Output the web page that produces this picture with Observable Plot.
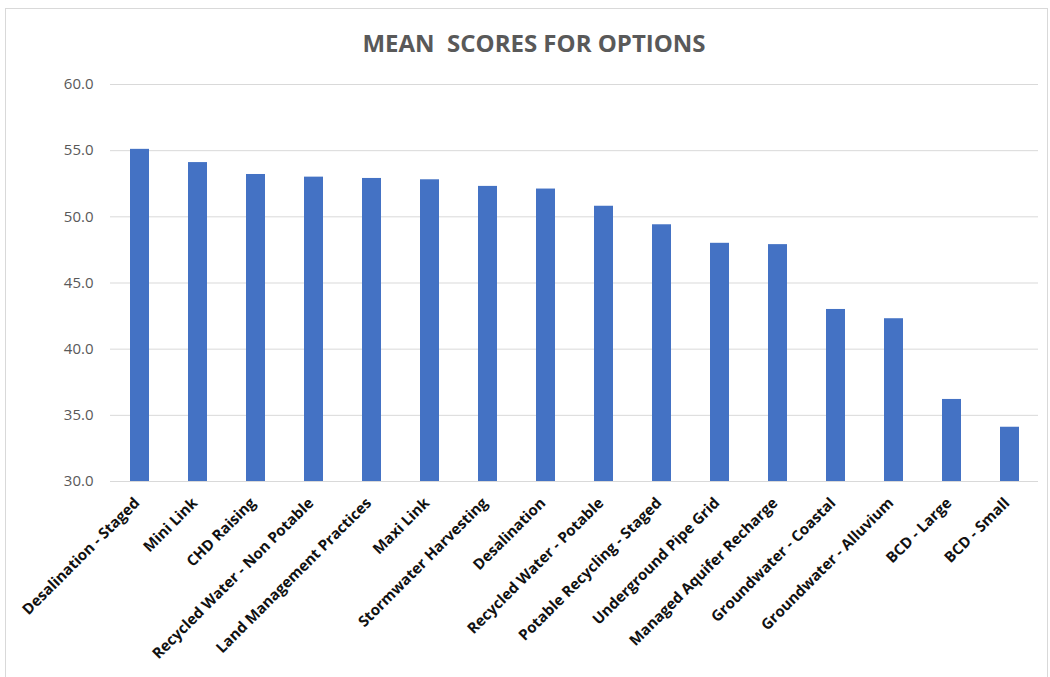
<!DOCTYPE html>
<html>
<head>
<meta charset="utf-8">
<script src="https://cdn.jsdelivr.net/npm/d3@7"></script>
<script src="https://cdn.jsdelivr.net/npm/@observablehq/plot@0.6"></script>
<style>
  html, body { margin: 0; padding: 0; background: #fff; }
  #wrap { position: relative; width: 1050px; height: 677px; overflow: hidden; background: #fff; }
  #frame { position: absolute; left: 5px; top: 8px; width: 1043px; height: 680px; border: 1px solid #d9d9d9; box-sizing: border-box; pointer-events: none; z-index: 2; }
  #title { position: absolute; left: 0; top: 31px; width: 1068px; text-align: center; white-space: pre; line-height: 24px;
           font-family: "Open Sans", sans-serif; font-weight: bold; font-size: 24px; color: #595959; z-index: 1; }
  #chart { position: absolute; left: 0; top: 70px; }
</style>
</head>
<body>
<div id="wrap">
  <div id="chart"></div>
  <div id="title">MEAN  SCORES FOR OPTIONS</div>
  <div id="frame"></div>
</div>
<script>
const options = [
  "Desalination - Staged",
  "Mini Link",
  "CHD Raising",
  "Recycled Water - Non Potable",
  "Land Management Practices",
  "Maxi Link",
  "Stormwater Harvesting",
  "Desalination",
  "Recycled Water - Potable",
  "Potable Recycling - Staged",
  "Underground Pipe Grid",
  "Managed Aquifer Recharge",
  "Groundwater - Coastal",
  "Groundwater - Alluvium",
  "BCD - Large",
  "BCD - Small"
];
const meanScores = [55.1, 54.1, 53.2, 53.0, 52.9, 52.8, 52.3, 52.1, 50.8, 49.4, 48.0, 47.9, 43.0, 42.3, 36.2, 34.1];
const yTicks = [30, 35, 40, 45, 50, 55, 60];

const data = options.map((name, i) => ({name, value: meanScores[i]}));

const chart = Plot.plot({
  width: 1050,
  height: 607,
  marginLeft: 110,
  marginRight: 12,
  marginTop: 14,
  marginBottom: 196,
  style: {fontFamily: "'Open Sans', sans-serif", background: "transparent", overflow: "visible"},
  x: {domain: options, paddingInner: 0.68, paddingOuter: 0.34, label: null},
  y: {domain: [30, 60], label: null},
  marks: [
    Plot.gridY(yTicks, {stroke: "#d9d9d9", strokeOpacity: 1, strokeWidth: 1}),
    Plot.barY(data, {x: "name", y: "value", fill: "#4472C4", clip: true}),
    Plot.axisY(yTicks, {tickSize: 0, tickPadding: 17, tickFormat: d3.format(".1f"), fontSize: 15, color: "#595959", label: null}),
    Plot.axisX({tickSize: 0, tickPadding: 19, dx: -3, tickRotate: -45, fontSize: 15, fontWeight: "bold", color: "#111", label: null})
  ]
});
document.getElementById("chart").appendChild(chart);
</script>
</body>
</html>
